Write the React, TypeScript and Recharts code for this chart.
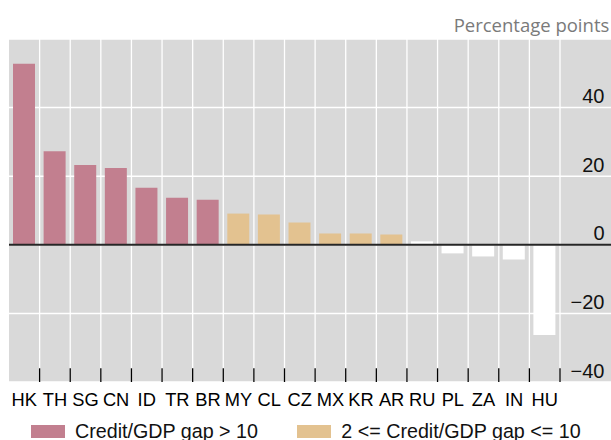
import { BarChart, Bar, XAxis, YAxis, CartesianGrid, ReferenceLine, Legend } from "recharts";

// countries, sorted by credit/GDP gap
const countries = ["HK", "TH", "SG", "CN", "ID", "TR", "BR", "MY", "CL", "CZ", "MX", "KR", "AR", "RU", "PL", "ZA", "IN", "HU"];
const gapValues = [52.8, 27.3, 23.3, 22.4, 16.6, 13.7, 13.1, 9.1, 8.8, 6.5, 3.3, 3.3, 3.0, 1.0, -2.5, -3.4, -4.3, -26.3];
const gapGroups = ["high", "high", "high", "high", "high", "high", "high", "mid", "mid", "mid", "mid", "mid", "mid", "low", "low", "low", "low", "low"];
const yTicks = [-40, -20, 0, 20, 40];
const legendOrder = ["high", "mid"];

const PINK = "#c27f8f";
const TAN = "#e3c290";
const GRAY_BG = "#d9d9d9";
const FONT = "'Liberation Sans', Arial, sans-serif";

const chartData = countries.map((name, i) => ({
    name,
    high: gapGroups[i] === "high" ? gapValues[i] : null,
    mid: gapGroups[i] === "mid" ? gapValues[i] : null,
    low: gapGroups[i] === "low" ? gapValues[i] : null,
}));

const fmt = (v: number) => (v < 0 ? `\u2212${-v}` : `${v}`);

function XTick({ x, y, payload }: any) {
    return (
        <text x={x} y={y + 23.7} textAnchor="middle" fontFamily={FONT} fontSize={18.3} fill="#000">
            {payload.value}
        </text>
    );
}

function YTick({ x, y, payload }: any) {
    // label sits just above its gridline, inside the plot
    return (
        <text x={x - 6.5} y={y - 4.5} textAnchor="end" fontFamily={FONT} fontSize={20} fill="#111">
            {fmt(payload.value)}
        </text>
    );
}

function LegendContent({ payload }: any) {
    const items = (payload || [])
        .filter((p: any) => legendOrder.includes(p.dataKey))
        .sort((a: any, b: any) => legendOrder.indexOf(a.dataKey) - legendOrder.indexOf(b.dataKey));
    return (
        <div style={{ display: "flex", fontFamily: FONT, fontSize: 19.7, lineHeight: "22px", color: "#111", whiteSpace: "nowrap" }}>
            {items.map((p: any, i: number) => (
                <div key={p.dataKey} style={{ display: "flex", alignItems: "center", flex: "none", width: i === 0 ? 266.3 : "auto" }}>
                    <span style={{ display: "inline-block", width: 34, height: 13, background: p.color, marginRight: 10 }} />
                    <span>{p.value}</span>
                </div>
            ))}
        </div>
    );
}

export default function App() {
    return (
        <div style={{ padding: "8px 0 0 8px", width: 603, height: 432 }}>
            <style>{"body{margin:0}"}</style>
            <div style={{ position: "relative", width: 603, height: 432 }}>
                <div
                    style={{
                        position: "absolute",
                        right: 1.7,
                        top: 7,
                        zIndex: 2,
                        fontFamily: "'Open Sans', 'Noto Sans', sans-serif",
                        fontSize: 18.5,
                        lineHeight: "20px",
                        color: "#7a7a7a",
                        whiteSpace: "nowrap",
                    }}
                >
                    Percentage points
                </div>
                <BarChart width={603} height={432} data={chartData} margin={{ top: 31, right: 0, bottom: 0, left: 1 }}>
                    <CartesianGrid vertical={false} fill={GRAY_BG} fillOpacity={1} stroke="#ffffff" strokeWidth={1.5} />
                    <XAxis
                        dataKey="name"
                        height={58}
                        padding={{ left: 0, right: 51 }}
                        axisLine={false}
                        tickLine={false}
                        tickSize={0}
                        tickMargin={0}
                        interval={0}
                        tick={<XTick />}
                    />
                    <YAxis
                        orientation="right"
                        mirror
                        width={1}
                        domain={[-40, 60]}
                        ticks={yTicks}
                        interval={0}
                        allowDataOverflow
                        axisLine={false}
                        tickLine={false}
                        tickSize={0}
                        tickMargin={0}
                        tick={<YTick />}
                    />
                    {countries.map((c) => (
                        <ReferenceLine key={`v-${c}`} x={c} position="end" stroke="#ffffff" strokeWidth={1.3} />
                    ))}
                    <Bar dataKey="high" name="Credit/GDP gap > 10" stackId="a" barSize={22} fill={PINK} isAnimationActive={false} />
                    <Bar dataKey="mid" name="2 <= Credit/GDP gap <= 10" stackId="a" barSize={22} fill={TAN} isAnimationActive={false} />
                    <Bar dataKey="low" name="other" stackId="a" barSize={22} fill="#ffffff" legendType="none" isAnimationActive={false} />
                    <ReferenceLine y={0} stroke="#262626" strokeWidth={2} />
                    {countries.map((c) => (
                        <ReferenceLine
                            key={`t-${c}`}
                            segment={[{ x: c, y: -40 }, { x: c, y: -36 }]}
                            position="end"
                            stroke="#000000"
                            strokeWidth={1.3}
                        />
                    ))}
                    <Legend
                        layout="horizontal"
                        verticalAlign="middle"
                        align="center"
                        wrapperStyle={{ top: 412, left: 23, width: 570 }}
                        content={<LegendContent />}
                    />
                </BarChart>
            </div>
        </div>
    );
}
